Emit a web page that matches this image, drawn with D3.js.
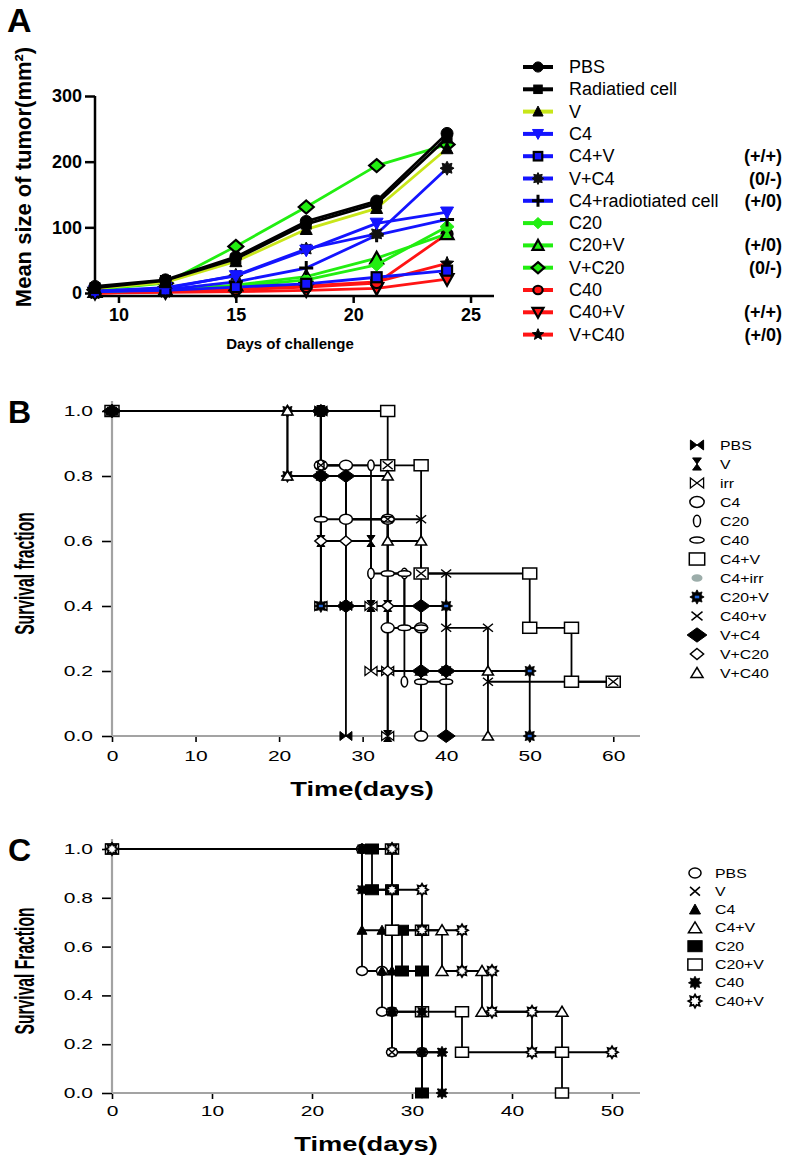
<!DOCTYPE html>
<html><head><meta charset="utf-8">
<script src="https://cdn.jsdelivr.net/npm/d3@7"></script>
<style>body{margin:0;background:#fff} svg{display:block}</style>
</head><body>
<svg id="chart" width="786" height="1155"></svg>
<script>
// ================= DATA =================
// Panel A : mean tumour size (mm^2) by day of challenge
const daysA = [9, 12, 15, 18, 21, 24];
const tickDaysA = [10, 15, 20, 25];
const tickSizeA = [0, 100, 200, 300];
const groupsA = ["PBS", "Radiatied cell", "V", "C4", "C4+V", "V+C4", "C4+radiotiated cell",
                 "C20", "C20+V", "V+C20", "C40", "C40+V", "V+C40"];
const notesA = ["", "", "", "", "(+/+)", "(0/-)", "(+/0)", "", "(+/0)", "(0/-)", "", "(+/+)", "(+/0)"];
const sizePBS      = [10, 20, 55, 109, 140, 243];
const sizeRadiated = [8, 19, 52, 105, 136, 236];
const sizeV        = [7, 16, 48, 97, 129, 220];
const sizeC4       = [3, 8, 26, 65, 106, 123];
const sizeC4V      = [2, 4, 9, 14, 24, 34];
const sizeVC4      = [3, 7, 27, 67, 90, 190];
const sizeC4Rad    = [2, 5, 17, 38, 88, 112];
const sizeC20      = [2, 5, 10, 20, 43, 101];
const sizeC20V     = [2, 5, 12, 25, 53, 90];
const sizeVC20     = [5, 15, 71, 131, 194, 226];
const sizeC40      = [0, 2, 5, 9, 15, 90];
const sizeC40V     = [0, 1, 2, 4, 7, 21];
const sizeVC40     = [0, 2, 6, 11, 17, 45];

// Panel B : Kaplan-Meier (time of step, survival after step)
const groupsB = ["PBS", "V", "irr", "C4", "C20", "C40", "C4+V", "C4+irr", "C20+V", "C40+v", "V+C4", "V+C20", "V+C40"];
const timeB_PBS = [0, 25, 28],              survB_PBS = [1, 0.4, 0];
const timeB_V = [0, 25, 31, 33],            survB_V = [1, 0.6, 0.4, 0];
const timeB_irr = [0, 25, 31, 33],          survB_irr = [1, 0.4, 0.2, 0];
const timeB_C4 = [0, 25, 28, 33, 37],       survB_C4 = [1, 0.833, 0.667, 0.333, 0];
const timeB_C20 = [0, 25, 31, 35],          survB_C20 = [1, 0.833, 0.5, 0.167];
const timeB_C40 = [0, 25, 33, 35, 37, 40],  survB_C40 = [1, 0.667, 0.5, 0.333, 0.167, 0.167];
const timeB_C4V = [0, 33, 37, 50, 55, 60],  survB_C4V = [1, 0.833, 0.5, 0.333, 0.167, 0.167];
const timeB_C4irr = [0, 25, 28, 33, 37],    survB_C4irr = [1, 0.833, 0.667, 0.333, 0];
const timeB_C20V = [0, 21, 25, 40, 50],     survB_C20V = [1, 0.8, 0.4, 0.2, 0];
const timeB_C40v = [0, 25, 33, 37, 40, 45, 60], survB_C40v = [1, 0.833, 0.667, 0.5, 0.333, 0.167, 0.167];
const timeB_VC4 = [0, 25, 28, 37, 40],      survB_VC4 = [1, 0.8, 0.4, 0.2, 0];
const timeB_VC20 = [0, 25, 28, 33, 37],     survB_VC20 = [1, 0.6, 0.4, 0.2, 0.2];
const timeB_VC40 = [0, 21, 33, 37, 45],     survB_VC40 = [1, 0.8, 0.6, 0.2, 0];
const tickTimeB = [0, 10, 20, 30, 40, 50, 60];
const tickSurv = [0, 0.2, 0.4, 0.6, 0.8, 1.0];

// Panel C : Kaplan-Meier
const groupsC = ["PBS", "V", "C4", "C4+V", "C20", "C20+V", "C40", "C40+V"];
const timeC_PBS = [0, 25, 27, 28, 31],        survC_PBS = [1, 0.5, 0.333, 0.167, 0];
const timeC_V = [0, 28, 33],                  survC_V = [1, 0.167, 0];
const timeC_C4 = [0, 25, 27, 28, 31],         survC_C4 = [1, 0.667, 0.5, 0.333, 0];
const timeC_C4V = [0, 28, 33, 37, 45],        survC_C4V = [1, 0.667, 0.5, 0.333, 0.167];
const timeC_C20 = [0, 26, 28, 29, 31],        survC_C20 = [1, 0.833, 0.667, 0.5, 0];
const timeC_C20V = [0, 28, 31, 35, 45],       survC_C20V = [1, 0.667, 0.333, 0.167, 0];
const timeC_C40 = [0, 25, 28, 31, 33],        survC_C40 = [1, 0.833, 0.333, 0.167, 0];
const timeC_C40V = [0, 28, 31, 35, 38, 42, 50], survC_C40V = [1, 0.833, 0.667, 0.5, 0.333, 0.167, 0.167];
const tickTimeC = [0, 10, 20, 30, 40, 50];

// ================= STYLE =================
const FONT = "'Liberation Sans', Arial, Helvetica, sans-serif";
const BLK = "#000", LIME = "#c8e619", BLUE = "#1414ff", GRN = "#22ee11", RED = "#ff1414";
const styleA = [
  {line: BLK,  type: "ellipse", w: 6, h: 6, fill: BLK, stroke: BLK, sw: 1},
  {line: BLK,  type: "rect", w: 5, h: 5, fill: BLK, stroke: BLK, sw: 1},
  {line: LIME, type: "tri", w: 6, h: 6.5, fill: BLK, stroke: BLK, sw: 1},
  {line: BLUE, type: "tridown", w: 6.5, h: 6.5, fill: BLUE, stroke: BLUE, sw: 1},
  {line: BLUE, type: "rect", w: 5, h: 5, fill: BLUE, stroke: BLK, sw: 2.2},
  {line: BLUE, type: "burst", w: 7, h: 7, fill: "#111", stroke: "#111", sw: 1},
  {line: BLUE, type: "plus", w: 7, h: 7, fill: "none", stroke: BLK, sw: 3},
  {line: GRN,  type: "diamond", w: 7, h: 6.5, fill: GRN, stroke: GRN, sw: 1},
  {line: GRN,  type: "tri", w: 6.5, h: 6.5, fill: GRN, stroke: BLK, sw: 2.2},
  {line: GRN,  type: "diamond", w: 7.5, h: 6.5, fill: GRN, stroke: BLK, sw: 2.2},
  {line: RED,  type: "ellipse", w: 5.5, h: 5, fill: RED, stroke: BLK, sw: 2.2},
  {line: RED,  type: "tridown", w: 6.5, h: 6.5, fill: RED, stroke: BLK, sw: 2.2},
  {line: RED,  type: "star", w: 7, h: 7, fill: BLK, stroke: BLK, sw: 1}
];
const styleB = [
  {type: "bowtie", w: 6, h: 4.5, fill: BLK, stroke: BLK, sw: 1},
  {type: "hourglass", w: 4, h: 5.5, fill: BLK, stroke: BLK, sw: 1},
  {type: "bowtie", w: 6, h: 4.5, fill: "#fff", stroke: BLK, sw: 1.3},
  {type: "ellipse", w: 6.5, h: 5, fill: "#fff", stroke: BLK, sw: 1.5},
  {type: "ellipse", w: 3.2, h: 5.2, fill: "#fff", stroke: BLK, sw: 1.5},
  {type: "ellipse", w: 6.5, h: 2.8, fill: "#fff", stroke: BLK, sw: 1.5},
  {type: "rect", w: 7, h: 5.5, fill: "#fff", stroke: BLK, sw: 1.5},
  {type: "ellipse", w: 5, h: 3.5, fill: "#9cadaa", stroke: "none", sw: 0},
  {type: "burst", w: 6.5, h: 6.5, fill: BLK, stroke: BLK, sw: 0.8, dot: "#1f63d6"},
  {type: "x", w: 5, h: 4, fill: "none", stroke: BLK, sw: 1.5},
  {type: "diamond", w: 9, h: 6.5, fill: BLK, stroke: BLK, sw: 1},
  {type: "diamond", w: 6, h: 5, fill: "#fff", stroke: BLK, sw: 1.5},
  {type: "tri", w: 5.5, h: 5, fill: "#fff", stroke: BLK, sw: 1.5}
];
const orderB = [7, 0, 1, 2, 3, 4, 5, 8, 6, 9, 11, 12, 10];
const styleC = [
  {type: "ellipse", w: 5.5, h: 4.5, fill: "#fff", stroke: BLK, sw: 1.5},
  {type: "x", w: 4.5, h: 4, fill: "none", stroke: BLK, sw: 1.6},
  {type: "tri", w: 5, h: 5, fill: BLK, stroke: BLK, sw: 1},
  {type: "tri", w: 6, h: 5.5, fill: "#fff", stroke: BLK, sw: 1.5},
  {type: "rect", w: 6.5, h: 5, fill: BLK, stroke: BLK, sw: 1},
  {type: "rect", w: 6.5, h: 5, fill: "#fff", stroke: BLK, sw: 1.5},
  {type: "burst", w: 6, h: 6, fill: BLK, stroke: BLK, sw: 0.8},
  {type: "burst", w: 6, h: 6, fill: "#fff", stroke: BLK, sw: 1.8}
];
const orderC = [0, 1, 2, 3, 4, 5, 6, 7];

// ================= HELPERS =================
function starPath(n, R, r) {
  let d = "";
  for (let i = 0; i < 2 * n; i++) {
    const a = -Math.PI / 2 + i * Math.PI / n, rr = i % 2 ? r : R;
    d += (i ? "L" : "M") + (rr * Math.cos(a)).toFixed(2) + "," + (rr * Math.sin(a)).toFixed(2);
  }
  return d + "Z";
}
function drawMarker(g, st, x, y, k = 1) {
  const m = g.append("g").attr("transform", `translate(${x},${y})`);
  const w = st.w * k, h = st.h * k;
  let el;
  switch (st.type) {
    case "ellipse": el = m.append("ellipse").attr("rx", w).attr("ry", h); break;
    case "rect": el = m.append("rect").attr("x", -w).attr("y", -h).attr("width", 2 * w).attr("height", 2 * h); break;
    case "diamond": el = m.append("path").attr("d", `M0,${-h}L${w},0L0,${h}L${-w},0Z`); break;
    case "tri": el = m.append("path").attr("d", `M0,${-h}L${w},${h * 0.8}L${-w},${h * 0.8}Z`); break;
    case "tridown": el = m.append("path").attr("d", `M0,${h}L${w},${-h * 0.8}L${-w},${-h * 0.8}Z`); break;
    case "bowtie": el = m.append("path").attr("d", `M${-w},${-h}L0,0L${-w},${h}ZM${w},${-h}L0,0L${w},${h}Z`); break;
    case "hourglass": el = m.append("path").attr("d", `M${-w},${-h}L${w},${-h}L0,0ZM${-w},${h}L${w},${h}L0,0Z`); break;
    case "x": el = m.append("path").attr("d", `M${-w},${-h}L${w},${h}M${-w},${h}L${w},${-h}`); break;
    case "plus": el = m.append("path").attr("d", `M${-w},0L${w},0M0,${-h}L0,${h}`); break;
    case "star": el = m.append("path").attr("d", starPath(5, w, w * 0.45)); break;
    case "burst": el = m.append("path").attr("d", starPath(8, w, w * 0.62)); break;
  }
  el.attr("fill", st.fill).attr("stroke", st.stroke).attr("stroke-width", st.sw).attr("stroke-linejoin", "miter");
  if (st.dot) m.append("rect").attr("x", -2 * k).attr("y", -1.2 * k).attr("width", 4 * k).attr("height", 2.4 * k).attr("fill", st.dot);
}
function stepPoints(ts, ss) {
  const pts = [[ts[0], ss[0]]];
  for (let i = 1; i < ts.length; i++) {
    pts.push([ts[i], ss[i - 1]]);
    if (ss[i] !== ss[i - 1]) pts.push([ts[i], ss[i]]);
  }
  return pts;
}

const svg = d3.select("#chart");
svg.append("rect").attr("width", 786).attr("height", 1155).attr("fill", "#fff");

// ================= PANEL A =================
const seriesA = [sizePBS, sizeRadiated, sizeV, sizeC4, sizeC4V, sizeVC4, sizeC4Rad,
                 sizeC20, sizeC20V, sizeVC20, sizeC40, sizeC40V, sizeVC40];
const xA = d3.scaleLinear().domain([9, 26]).range([95, 494]);
const yA = d3.scaleLinear().domain([0, 300]).range([293, 96]);
const gA = svg.append("g");

const axAx = gA.append("g").attr("transform", "translate(0,296)")
  .call(d3.axisBottom(xA).tickValues(tickDaysA).tickSize(7).tickPadding(5).tickSizeOuter(0));
const axAy = gA.append("g").attr("transform", "translate(95,0)")
  .call(d3.axisLeft(yA).tickValues(tickSizeA).tickSize(10).tickPadding(3).tickSizeOuter(0));
[axAx, axAy].forEach(a => {
  a.select(".domain").remove();
  a.selectAll(".tick line").attr("stroke", BLK).attr("stroke-width", 2.5);
  a.selectAll("text").attr("font-family", FONT).attr("font-size", 18).attr("font-weight", "bold").attr("fill", BLK);
});
gA.append("line").attr("x1", xA.range()[0]).attr("x2", xA.range()[1]).attr("y1", 296).attr("y2", 296).attr("stroke", BLK).attr("stroke-width", 2.5);
gA.append("line").attr("x1", 95).attr("x2", 95).attr("y1", yA(300)).attr("y2", 297).attr("stroke", BLK).attr("stroke-width", 2.5);

const lineA = d3.line().x((d, i) => xA(daysA[i])).y(d => yA(d));
for (let k = groupsA.length - 1; k >= 0; k--) {
  gA.append("path").attr("d", lineA(seriesA[k])).attr("fill", "none")
    .attr("stroke", styleA[k].line).attr("stroke-width", 2.8).attr("stroke-linejoin", "round");
  seriesA[k].forEach((v, i) => drawMarker(gA, styleA[k], xA(daysA[i]), yA(v)));
}

gA.append("text").attr("x", 7).attr("y", 32).text("A")
  .attr("font-family", FONT).attr("font-size", 34).attr("font-weight", "bold");
gA.append("text").attr("transform", "translate(31,177) rotate(-90)").attr("text-anchor", "middle")
  .text("Mean size of tumor(mm²)").attr("font-family", FONT).attr("font-size", 22).attr("font-weight", "bold");
gA.append("text").attr("x", 290).attr("y", 349).attr("text-anchor", "middle").text("Days of challenge")
  .attr("font-family", FONT).attr("font-size", 15).attr("font-weight", "bold");

const legA = gA.append("g");
groupsA.forEach((name, i) => {
  const y = 67 + i * 22.3;
  legA.append("line").attr("x1", 523).attr("x2", 553).attr("y1", y).attr("y2", y)
    .attr("stroke", styleA[i].line).attr("stroke-width", 4);
  drawMarker(legA, styleA[i], 538, y, 0.85);
  legA.append("text").attr("x", 569).attr("y", y + 6).text(name)
    .attr("font-family", FONT).attr("font-size", 18);
  if (notesA[i]) legA.append("text").attr("x", 782).attr("y", y + 6).attr("text-anchor", "end").text(notesA[i])
    .attr("font-family", FONT).attr("font-size", 18).attr("font-weight", "bold");
});

// ================= SURVIVAL PANEL HELPER =================
function survivalPanel(cfg) {
  const g = svg.append("g");
  const x = d3.scaleLinear().domain(cfg.xDomain).range([112, 640]);
  const y = d3.scaleLinear().domain([0, 1]).range([cfg.y0, cfg.y1]);
  const SX = 1.5;
  const ax = g.append("g").attr("transform", `translate(0,${cfg.y0})`)
    .call(d3.axisBottom(x).tickValues(cfg.xTicks).tickSize(6).tickPadding(cfg.xPad).tickSizeOuter(0));
  const ay = g.append("g").attr("transform", "translate(112,0)")
    .call(d3.axisLeft(y).tickValues(tickSurv).tickFormat(d3.format(".1f")).tickSize(10).tickSizeOuter(0));
  [ax, ay].forEach(a => {
    a.select(".domain").remove();
    a.selectAll(".tick line").attr("stroke", BLK).attr("stroke-width", 1.6);
    a.selectAll("text").attr("font-family", FONT).attr("font-size", 14).attr("fill", BLK)
      .attr("transform", `scale(${SX},1)`);
  });
  ay.selectAll("text").attr("x", -19 / SX);
  g.append("line").attr("x1", 112).attr("x2", 640).attr("y1", cfg.y0).attr("y2", cfg.y0).attr("stroke", "#a3a3a3").attr("stroke-width", 2.2);
  g.append("line").attr("x1", 112).attr("x2", 112).attr("y1", cfg.y1 - 10).attr("y2", cfg.y0).attr("stroke", "#a3a3a3").attr("stroke-width", 2.2);

  const line = d3.line().x(d => x(d[0])).y(d => y(d[1]));
  const curves = cfg.times.map((t, i) => stepPoints(t, cfg.survs[i]));
  curves.forEach(pts => g.append("path").attr("d", line(pts)).attr("fill", "none")
    .attr("stroke", BLK).attr("stroke-width", 1.8));
  cfg.order.forEach(i => curves[i].forEach(p => drawMarker(g, cfg.styles[i], x(p[0]), y(p[1]))));

  g.append("text").attr("x", 8).attr("y", cfg.y1 + 12).text(cfg.label)
    .attr("font-family", FONT).attr("font-size", 32).attr("font-weight", "bold");
  g.append("text").attr("transform", `translate(34,${(cfg.y0 + cfg.y1) / 2}) rotate(-90) scale(0.58,1)`)
    .attr("text-anchor", "middle").text(cfg.yTitle)
    .attr("font-family", FONT).attr("font-size", 27).attr("font-weight", "bold");
  g.append("text").attr("transform", `translate(${cfg.titleX},${cfg.titleY}) scale(1.3,1)`)
    .attr("text-anchor", "middle").text("Time(days)")
    .attr("font-family", FONT).attr("font-size", 21).attr("font-weight", "bold");

  const leg = g.append("g");
  cfg.groups.forEach((name, i) => {
    const yy = cfg.legY + i * cfg.legStep;
    drawMarker(leg, cfg.styles[i], cfg.legX, yy, cfg.legK);
    leg.append("text").attr("transform", `translate(${cfg.legTX},${yy + 4.5}) scale(1.22,1)`)
      .text(name).attr("font-family", FONT).attr("font-size", 13);
  });
}

// ================= PANEL B =================
survivalPanel({
  label: "B", yTitle: "Survival fraction", y0: 736, y1: 411, xDomain: [0, 63.2], xTicks: tickTimeB, xPad: 9,
  titleX: 362, titleY: 796,
  groups: groupsB, styles: styleB, order: orderB,
  times: [timeB_PBS, timeB_V, timeB_irr, timeB_C4, timeB_C20, timeB_C40, timeB_C4V, timeB_C4irr,
          timeB_C20V, timeB_C40v, timeB_VC4, timeB_VC20, timeB_VC40],
  survs: [survB_PBS, survB_V, survB_irr, survB_C4, survB_C20, survB_C40, survB_C4V, survB_C4irr,
          survB_C20V, survB_C40v, survB_VC4, survB_VC20, survB_VC40],
  legX: 697, legTX: 720, legY: 445, legStep: 19, legK: 1.1
});

// ================= PANEL C =================
survivalPanel({
  label: "C", yTitle: "Survival Fraction", y0: 1093, y1: 849, xDomain: [0, 52.8], xTicks: tickTimeC, xPad: 7,
  titleX: 366, titleY: 1151,
  groups: groupsC, styles: styleC, order: orderC,
  times: [timeC_PBS, timeC_V, timeC_C4, timeC_C4V, timeC_C20, timeC_C20V, timeC_C40, timeC_C40V],
  survs: [survC_PBS, survC_V, survC_C4, survC_C4V, survC_C20, survC_C20V, survC_C40, survC_C40V],
  legX: 695, legTX: 715, legY: 873, legStep: 18.3, legK: 1.1
});
</script>
</body></html>
